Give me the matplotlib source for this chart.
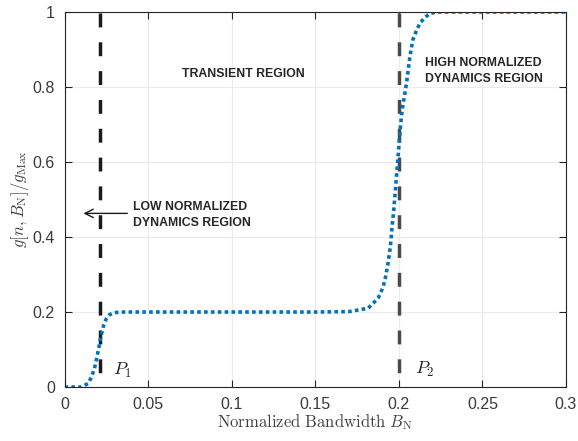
import numpy as np
import matplotlib
matplotlib.use('Agg')
import matplotlib.pyplot as plt

plt.rcParams['font.family'] = ['Liberation Sans', 'DejaVu Sans']
plt.rcParams['mathtext.fontset'] = 'cm'

# curve
bw = [0, 0.005, 0.010, 0.014, 0.016, 0.0174, 0.0186, 0.0196, 0.0206, 0.0214,
      0.0224, 0.0234, 0.025, 0.027, 0.029, 0.031, 0.036, 0.05, 0.1, 0.15,
      0.17, 0.1777, 0.1816, 0.185, 0.1876, 0.1896, 0.191, 0.1922, 0.1936, 0.195,
      0.196, 0.197, 0.1978, 0.1986, 0.1994, 0.2002, 0.201, 0.202, 0.203, 0.2046,
      0.2066, 0.2084, 0.2105, 0.2126, 0.2155, 0.2186, 0.2226, 0.25, 0.3]
g_norm = [0, 0, 0, 0.009, 0.025, 0.043, 0.062, 0.084, 0.106, 0.126,
          0.146, 0.164, 0.182, 0.193, 0.197, 0.199, 0.2, 0.2, 0.2, 0.2,
          0.201, 0.207, 0.21, 0.225, 0.237, 0.256, 0.274, 0.296, 0.332, 0.376,
          0.429, 0.473, 0.518, 0.562, 0.606, 0.651, 0.695, 0.739, 0.766, 0.81,
          0.88, 0.926, 0.95, 0.97, 0.985, 0.996, 1.0, 1.0, 1.0]

P1 = 0.021
P2 = 0.2
xticks = [0, 0.05, 0.1, 0.15, 0.2, 0.25, 0.3]
xticklabels = ['0', '0.05', '0.1', '0.15', '0.2', '0.25', '0.3']
yticks = [0, 0.2, 0.4, 0.6, 0.8, 1]
yticklabels = ['0', '0.2', '0.4', '0.6', '0.8', '1']

fig = plt.figure(figsize=(5.78, 4.41), dpi=100)
ax = fig.add_axes([0.1116, 0.1224, 0.9792 - 0.1116, 0.9728 - 0.1224])

txt = '#262626'

# vertical markers, drawn top-down so the dash pattern starts at the top
ax.plot([P1, P1], [0.997, 0], color='#1a1a1a', lw=2.5, dashes=(4, 4.3))
ax.plot([P2, P2], [0.997, 0], color='#4a4a4a', lw=2.5, dashes=(4, 4.3))

ax.plot(bw, g_norm, color='#0072BD', lw=2.6, dashes=(1.0, 0.9),
        dash_capstyle='butt')

ax.set_xlim(0, 0.3)
ax.set_ylim(0, 1)
ax.set_xticks(xticks)
ax.set_xticklabels(xticklabels)
ax.set_yticks(yticks)
ax.set_yticklabels(yticklabels)
ax.grid(True, color='#ebebeb', lw=0.8)
ax.set_axisbelow(True)
ax.tick_params(direction='in', top=True, right=True, length=5, width=0.8,
               colors='#262626', labelsize=11.5, labelcolor='#3a3a3a', pad=7)
for s in ax.spines.values():
    s.set_color('#262626')
    s.set_linewidth(0.8)

ax.set_xlabel(r'$\mathrm{Normalized\ Bandwidth}\ B_{\mathrm{N}}$',
              fontsize=12, color='#404040', labelpad=0)
ax.set_ylabel(r'$g[n,B_{\mathrm{N}}]/g_{\mathrm{Max}}$',
              fontsize=12, color='#404040', labelpad=1)

ax.text(0.1068, 0.835, 'TRANSIENT REGION', ha='center', va='center',
        fontsize=8.8, fontweight='bold', color=txt)
ax.text(0.2157, 0.843, 'HIGH NORMALIZED\nDYNAMICS REGION', ha='left', va='center',
        fontsize=8.8, fontweight='bold', color=txt, linespacing=1.45)
ax.text(0.0412, 0.459, 'LOW NORMALIZED\nDYNAMICS REGION', ha='left', va='center',
        fontsize=8.8, fontweight='bold', color=txt, linespacing=1.4)
ax.annotate('', xy=(0.0113, 0.463), xytext=(0.0376, 0.463),
            arrowprops=dict(arrowstyle='->,head_length=0.6,head_width=0.3',
                            color='#1a1a1a', lw=1.0, shrinkA=0, shrinkB=0))

ax.text(0.029, 0.032, r'$P_1$', fontsize=13, color=txt)
ax.text(0.2097, 0.036, r'$P_2$', fontsize=13, color=txt)

fig.savefig('out.png', dpi=100)
